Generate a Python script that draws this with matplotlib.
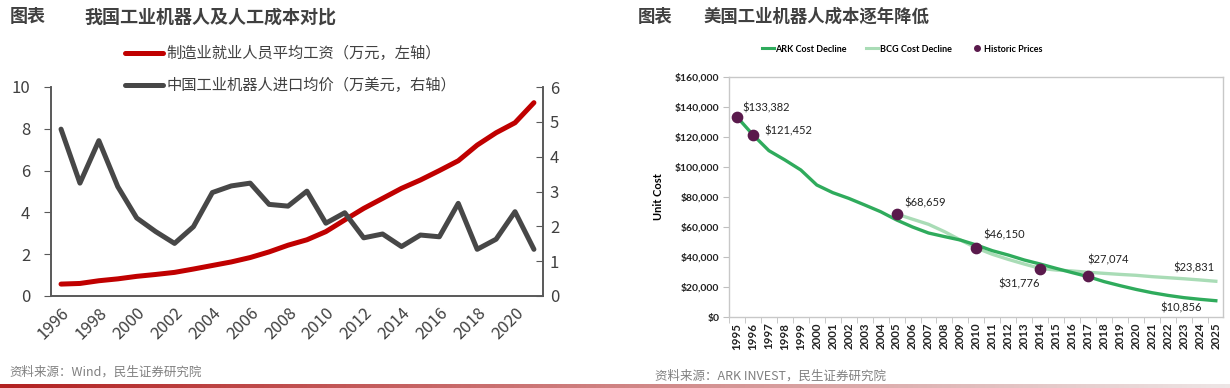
import numpy as np
import matplotlib.pyplot as plt
from matplotlib.lines import Line2D

plt.rcParams['font.family'] = ['Noto Sans CJK SC', 'DejaVu Sans']

# left chart: China wages vs robot import price
years_cn = list(range(1996, 2022))
wage = [0.57, 0.60, 0.73, 0.82, 0.94, 1.03, 1.13, 1.29, 1.46, 1.63, 1.84, 2.11, 2.43,
        2.69, 3.08, 3.64, 4.19, 4.67, 5.15, 5.55, 6.00, 6.47, 7.22, 7.81, 8.29, 9.25]
robot_price = [4.79, 3.24, 4.46, 3.14, 2.24, 1.85, 1.51, 1.99, 2.97, 3.16, 3.24, 2.63, 2.58,
               3.01, 2.09, 2.39, 1.67, 1.78, 1.42, 1.75, 1.70, 2.66, 1.34, 1.63, 2.42, 1.34]
cn_xticks = list(range(1996, 2021, 2))

# right chart: US robot unit cost
years_us = list(range(1995, 2026))
ark = [133382, 121452, 110900, 104700, 98000, 88000, 82900, 79100, 74700, 70200, 64700,
       60000, 56000, 53600, 51300, 48000, 44200, 41300, 38000, 35300, 32400, 29600, 26900,
       23600, 20900, 18400, 16200, 14400, 12900, 11800, 10856]
bcg_years = list(range(2005, 2026))
bcg = [68659, 65200, 61800, 56900, 51300, 46000, 41800, 38400, 35300, 32400, 31300, 30700,
       29800, 29100, 28400, 27800, 26900, 26200, 25500, 24700, 23831]
hist_years = [1995, 1996, 2005, 2010, 2014, 2017]
hist_prices = [133382, 121452, 68659, 46150, 31776, 27074]

RED = '#c00000'
GRAY = '#474747'
TXT = '#404040'
ARK_C = '#2fab5c'
BCG_C = '#a9dcb6'
DOT = '#5a1a4c'

fig = plt.figure(figsize=(12.3, 3.88), dpi=100)
W, H = 1230, 388

def box(l, t, r, b):
    return [l / W, 1 - b / H, (r - l) / W, (b - t) / H]

# ---------- left chart ----------
ax1 = fig.add_axes(box(51, 87, 543, 296))
ax1b = ax1.twinx()
l1, = ax1.plot(years_cn, wage, color=RED, lw=3.6, solid_capstyle='round',
               label='制造业就业人员平均工资（万元，左轴）')
l2, = ax1b.plot(years_cn, robot_price, color=GRAY, lw=3.6, solid_capstyle='round',
                label='中国工业机器人进口均价（万美元，右轴）')
ax1.set_xlim(1995.47, 2021.48)
ax1.set_ylim(0, 10)
ax1b.set_ylim(0, 6)
ax1.set_yticks(range(0, 11, 2))
ax1b.set_yticks(range(0, 7))
ax1.set_xticks(cn_xticks)
ax1.set_xticklabels([str(y) for y in cn_xticks], rotation=45, ha='right', va='top',
                    rotation_mode='anchor')
for a in (ax1, ax1b):
    a.spines['top'].set_visible(False)
    for s in ('left', 'right', 'bottom'):
        a.spines[s].set_color('#595959')
        a.spines[s].set_linewidth(1.2)
ax1.tick_params(axis='x', length=0, labelsize=12, labelcolor=TXT, pad=6)
ax1.tick_params(axis='y', length=5, color='#595959', labelsize=12, labelcolor=TXT, pad=10)
ax1b.tick_params(axis='y', direction='in', length=5, color='#595959', labelsize=12,
                 labelcolor=TXT, pad=5)
fig.legend(handles=[l1, l2], loc='upper left', bbox_to_anchor=(125 / W, 1 - 45 / H),
           frameon=False, fontsize=11, handlelength=2.5, handletextpad=0.2,
           labelspacing=1.0, borderpad=0, borderaxespad=0, labelcolor=TXT)

fig.text(10 / W, 1 - 17 / H, '图表', fontsize=13, fontweight='bold', color=TXT, va='center')
fig.text(84 / W, 1 - 17 / H, '我国工业机器人及人工成本对比', fontsize=13, fontweight='bold',
         color=TXT, va='center')
fig.text(9 / W, 1 - 372 / H, '资料来源：Wind，民生证券研究院', fontsize=9, color='#808080',
         va='center')

# ---------- right chart ----------
rf = ['Lato', 'DejaVu Sans']
ax2 = fig.add_axes(box(729, 77, 1223, 317))
ax2.plot(bcg_years, bcg, color=BCG_C, lw=2.4, zorder=2)
ax2.plot(years_us, ark, color=ARK_C, lw=2.4, zorder=3)
ax2.scatter(hist_years, hist_prices, s=55, color=DOT, zorder=4)
ax2.set_xlim(1994.5, 2025.45)
ax2.set_ylim(0, 160000)
ax2.set_yticks(range(0, 160001, 20000))
ax2.set_yticklabels(['$' + format(v, ',') for v in range(0, 160001, 20000)],
                    family=rf, fontweight='bold')
ax2.set_xticks(years_us)
ax2.set_xticklabels([str(y) for y in years_us], rotation=90, family=rf, fontweight='bold')
ax2.set_xticks([y + 0.5 for y in years_us[:-1]] + [1994.5], minor=True)
ax2.tick_params(axis='x', which='major', length=0, labelsize=8.3, pad=4, labelcolor='#222222')
ax2.tick_params(axis='x', which='minor', length=4, color='#bfbfbf')
ax2.tick_params(axis='y', length=4, color='#bfbfbf', labelsize=7.5, labelcolor='#222222', pad=3)
for s in ax2.spines.values():
    s.set_color('#c8c8c8')
    s.set_linewidth(1.0)
ax2.set_ylabel('Unit Cost', family=rf, fontweight='bold', fontsize=8, labelpad=8)

ann = [('$133,382', (3.6, 6.5), 'left'), ('$121,452', (8.6, 2.9), 'left'),
       ('$68,659', (5.8, 7.9), 'left'), ('$46,150', (5, 9.4), 'left'),
       ('$31,776', (-15, -10.8), 'center'), ('$27,074', (-0.7, 12.2), 'left')]
for (txt, off, ha), x, y in zip(ann, hist_years, hist_prices):
    ax2.annotate(txt, (x, y), xytext=off, textcoords='offset points', ha=ha, va='center',
                 fontsize=8, family=rf, color='#222222')
ax2.annotate('$' + format(bcg[-1], ','), (bcg_years[-1], bcg[-1]), xytext=(-1, 9.4),
             textcoords='offset points', ha='right', va='center', fontsize=8, family=rf,
             color='#222222')
ax2.annotate('$' + format(ark[-1], ','), (years_us[-1], ark[-1]), xytext=(-10, -5),
             textcoords='offset points', ha='right', va='center', fontsize=8, family=rf,
             color='#222222')

h_ark = Line2D([], [], color=ARK_C, lw=2.2)
h_bcg = Line2D([], [], color=BCG_C, lw=2.2)
h_dot = Line2D([], [], color=DOT, marker='o', ls='none', markersize=4)
leg = fig.legend([h_ark, h_bcg, h_dot], ['ARK Cost Decline', 'BCG Cost Decline', 'Historic Prices'],
                 loc='center left', bbox_to_anchor=(762 / W, 1 - 49 / H), ncol=3,
                 frameon=False, prop={'family': rf, 'weight': 'bold', 'size': 6.5},
                 handlelength=1.3, handletextpad=0.15, columnspacing=2.2, borderpad=0,
                 borderaxespad=0)

fig.text(638 / W, 1 - 17 / H, '图表', fontsize=12.5, fontweight='bold', color=TXT, va='center')
fig.text(703 / W, 1 - 17 / H, '美国工业机器人成本逐年降低', fontsize=12.5, fontweight='bold',
         color=TXT, va='center')
fig.text(655 / W, 1 - 376 / H, '资料来源：ARK INVEST，民生证券研究院', fontsize=9,
         color='#808080', va='center')

# bottom gradient rule
axg = fig.add_axes(box(0, 384, 1230, 388))
grad = np.linspace(0, 1, 256).reshape(1, -1)
c0 = np.array([0.70, 0.13, 0.13])
c1 = np.array([0.93, 0.90, 0.90])
img = c0[None, None, :] * (1 - grad[..., None]) + c1[None, None, :] * grad[..., None]
axg.imshow(img, aspect='auto', extent=[0, 1, 0, 1])
axg.axis('off')

fig.savefig('out.png', dpi=100)
